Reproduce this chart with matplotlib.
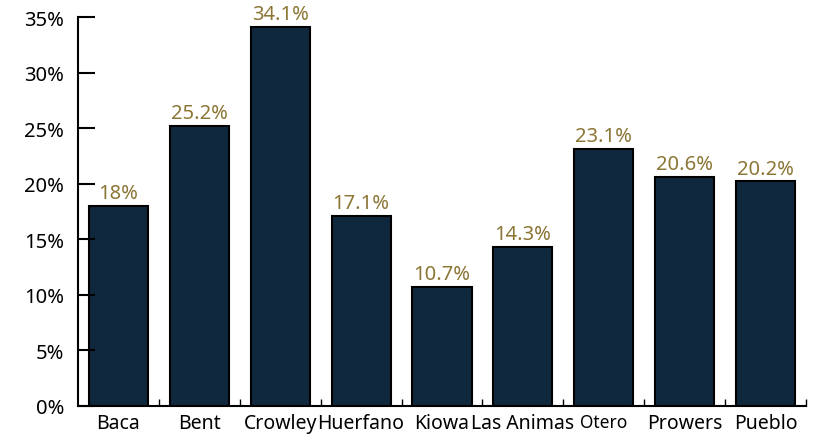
import numpy as np
import matplotlib.pyplot as plt
from matplotlib.ticker import FuncFormatter, FixedLocator

plt.rcParams['font.family'] = ['Noto Sans', 'DejaVu Sans']

# data
counties = ["Baca", "Bent", "Crowley", "Huerfano", "Kiowa", "Las Animas", "Otero", "Prowers", "Pueblo"]
values = [18, 25.2, 34.1, 17.1, 10.7, 14.3, 23.1, 20.6, 20.2]
value_labels = ["18%", "25.2%", "34.1%", "17.1%", "10.7%", "14.3%", "23.1%", "20.6%", "20.2%"]

bar_color = "#10283d"
label_color = "#8c7636"

fig = plt.figure(figsize=(8.23, 4.35), dpi=100)
ax = fig.add_axes([78 / 823, 28 / 435, (806 - 78) / 823, (407 - 18) / 435])

x = np.arange(len(counties))
bars = ax.bar(x, values, width=0.73, color=bar_color, edgecolor="black", linewidth=1.5)

for b, lab in zip(bars, value_labels):
    ax.annotate(lab, (b.get_x() + b.get_width() / 2, b.get_height()),
                xytext=(0, 2), textcoords="offset points",
                ha="center", va="bottom", fontsize=14.5, color=label_color)

ax.set_xlim(-0.5, len(counties) - 0.5)
ax.set_ylim(0, 35)
ax.set_yticks(np.arange(0, 36, 5))
ax.yaxis.set_major_formatter(FuncFormatter(lambda v, p: f"{v:.0f}%"))
ax.tick_params(axis="y", direction="in", length=12, width=1.5, pad=10, labelsize=14.5)

# labels under bars, small tick marks between categories
ax.set_xticks(x)
ax.set_xticklabels(counties)
ax.tick_params(axis="x", which="major", length=0, pad=5, labelsize=14)
for t in ax.get_xticklabels():
    if t.get_text() == "Otero":
        t.set_fontsize(12.5)
ax.xaxis.set_minor_locator(FixedLocator(x + 0.5))
ax.tick_params(axis="x", which="minor", direction="in", length=5, width=1)

for s in ["top", "right"]:
    ax.spines[s].set_visible(False)
for s in ["left", "bottom"]:
    ax.spines[s].set_linewidth(1.5)

fig.savefig("out.png", dpi=100)
